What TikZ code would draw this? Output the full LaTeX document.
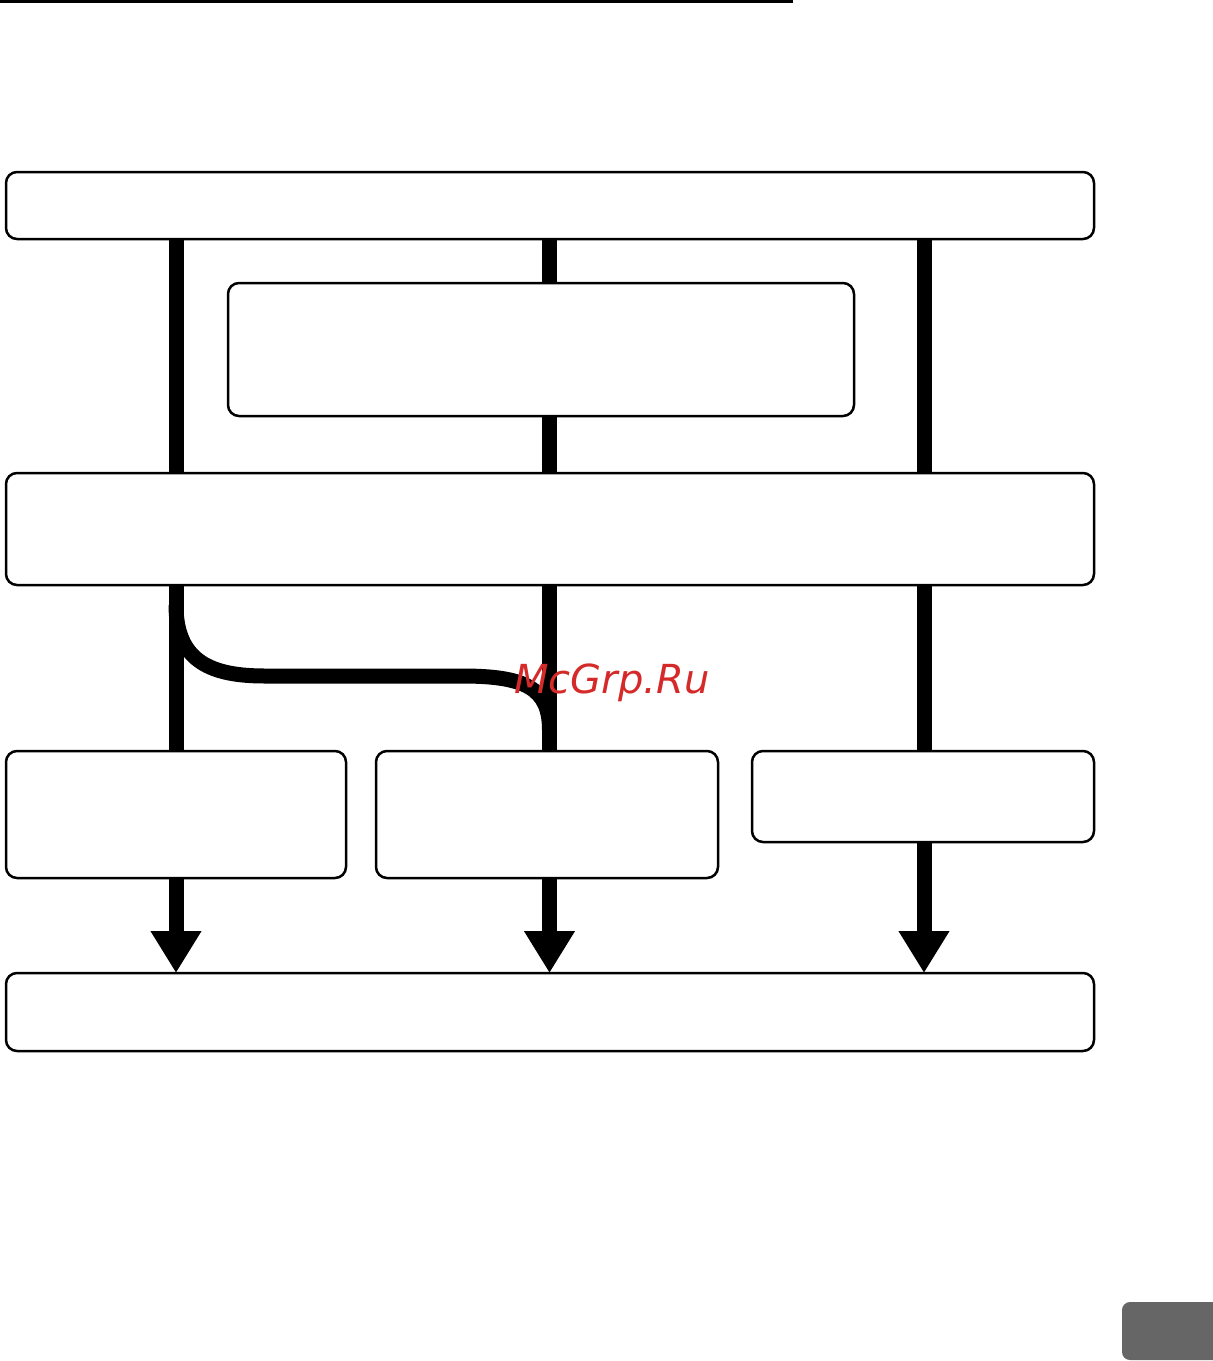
\documentclass[tikz,border=0pt]{standalone}
\usepackage{fontspec}
\newfontfamily\wmfont{DejaVu Sans}
\usetikzlibrary{arrows.meta,backgrounds}
\definecolor{wmred}{HTML}{D42A2A}
\definecolor{tabgray}{HTML}{666666}
\begin{document}
\begin{tikzpicture}[x=1pt,y=-1pt,
  box/.style={draw=black,fill=white,line width=2.5pt,rounded corners=11pt,inner sep=0pt,outer sep=0pt},
  bar/.style={line width=15pt,line cap=butt},
  arrowbar/.style={bar,-{Triangle[width=48pt,length=42pt]}}]
\useasboundingbox (0,0) rectangle (1213,1361);
% top rule
\draw[line width=3pt] (0,1.5) -- (793,1.5);
% boxes
\node[box,minimum width=1088pt,minimum height=67pt] (A) at (550,205.5) {};
\node[box,minimum width=626pt,minimum height=133pt] (B) at (541,349.5) {};
\node[box,minimum width=1088pt,minimum height=112pt] (C) at (550,529) {};
\node[box,minimum width=340pt,minimum height=127pt] (D1) at (176,814.5) {};
\node[box,minimum width=342pt,minimum height=127pt] (D2) at (547,814.5) {};
\node[box,minimum width=342pt,minimum height=91pt] (D3) at (923,796.5) {};
\node[box,minimum width=1088pt,minimum height=78pt] (E) at (550,1012) {};
% column positions
\coordinate (c1) at (176,0);
\coordinate (c2) at (549.5,0);
\coordinate (c3) at (924,0);
\coordinate (k1) at (176,605);
\coordinate (k2) at (549.5,730);
\begin{scope}[on background layer]
  \draw[bar] (A.south -| c1) -- (C.north -| c1);
  \draw[bar] (A.south -| c2) -- (B.north -| c2);
  \draw[bar] (B.south -| c2) -- (C.north -| c2);
  \draw[bar] (A.south -| c3) -- (C.north -| c3);
  \draw[bar] (C.south -| c1) -- (D1.north -| c1);
  \draw[bar] (C.south -| c2) -- (D2.north -| c2);
  \draw[bar] (C.south -| c3) -- (D3.north -| c3);
  \draw[bar] (k1) .. controls (176,662) and (212,676) .. (265,676) -- (462,676) .. controls (525,676) and (549.5,688) .. (k2);
  \draw[arrowbar] (D1.south -| c1) -- (E.north -| c1);
  \draw[arrowbar] (D2.south -| c2) -- (E.north -| c2);
  \draw[arrowbar] (D3.south -| c3) -- (E.north -| c3);
\end{scope}
% watermark
\node[text=wmred,font=\wmfont\itshape\fontsize{40}{40}\selectfont,inner sep=0pt] (wm) at (612,683) {McGrp.Ru};
% page tab
\fill[tabgray,rounded corners=8pt] (1213,1302) -- (1122,1302) -- (1122,1360) -- (1213,1360);
\end{tikzpicture}
\end{document}
